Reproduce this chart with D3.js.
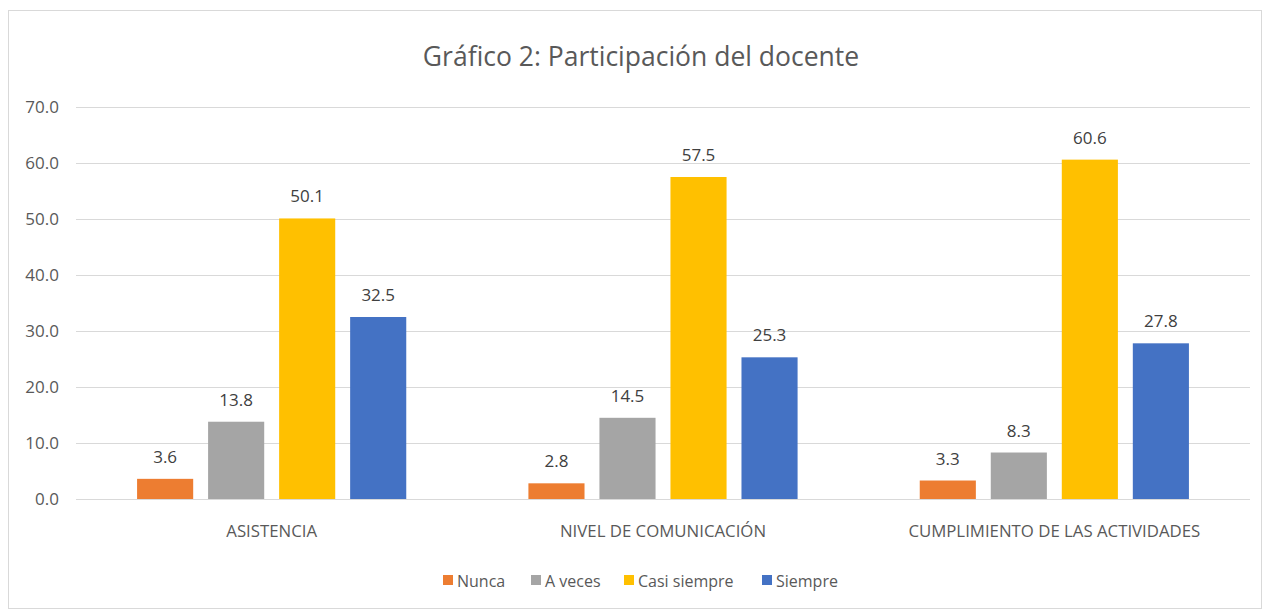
<!DOCTYPE html>
<html><head><meta charset="utf-8">
<script src="https://cdn.jsdelivr.net/npm/d3@7"></script>
<style>body{margin:0;background:#fff;}text{font-family:"Open Sans",sans-serif;}</style>
</head><body><svg id="c" width="1263" height="610"></svg>
<script>
const categories = ["ASISTENCIA", "NIVEL DE COMUNICACIÓN", "CUMPLIMIENTO DE LAS ACTIVIDADES"];
const seriesNames = ["Nunca", "A veces", "Casi siempre", "Siempre"];
const nunca = [3.6, 2.8, 3.3];
const aVeces = [13.8, 14.5, 8.3];
const casiSiempre = [50.1, 57.5, 60.6];
const siempre = [32.5, 25.3, 27.8];
const yTicks = [0, 10, 20, 30, 40, 50, 60, 70];
const colors = ["#ED7D31", "#A5A5A5", "#FFC000", "#4472C4"];
const seriesValues = [nunca, aVeces, casiSiempre, siempre];

const svg = d3.select("#c");
svg.append("rect").attr("x", 8.5).attr("y", 10.5).attr("width", 1253).attr("height", 598)
  .attr("fill", "#fff").attr("stroke", "#d9d9d9");

const x0 = d3.scaleBand().domain(categories).range([76, 1250]).padding(0);
const x1 = d3.scaleBand().domain(seriesNames).range([0, x0.bandwidth()]).paddingInner(0.21).paddingOuter(0.86);
const y = d3.scaleLinear().domain([0, 70]).range([499, 107]);

const grid = svg.append("g");
grid.selectAll("line").data(yTicks).join("line")
  .attr("x1", 76).attr("x2", 1250).attr("y1", d => y(d) + 0.5).attr("y2", d => y(d) + 0.5)
  .attr("stroke", "#d9d9d9").attr("stroke-width", 1);

const yAxis = svg.append("g").attr("transform", "translate(59,0)")
  .call(d3.axisLeft(y).tickValues(yTicks).tickFormat(d3.format(".1f")).tickSize(0).tickPadding(0));
yAxis.select(".domain").remove();
yAxis.selectAll("text").attr("fill", "#595959").style("font-size", "17px").style("font-family", '"Open Sans",sans-serif');

svg.append("text").attr("x", 641).attr("y", 66).attr("text-anchor", "middle")
  .attr("fill", "#595959").style("font-size", "26.5px")
  .text("Gráfico 2: Participación del docente");

const data = [];
categories.forEach((c, i) => seriesNames.forEach((s, j) => data.push({c, s, v: seriesValues[j][i], j})));

svg.append("g").selectAll("rect").data(data).join("rect")
  .attr("x", d => x0(d.c) + x1(d.s)).attr("width", x1.bandwidth())
  .attr("y", d => y(d.v)).attr("height", d => y(0) - y(d.v))
  .attr("fill", d => colors[d.j]);

svg.append("g").selectAll("text").data(data).join("text")
  .attr("x", d => x0(d.c) + x1(d.s) + x1.bandwidth() / 2).attr("y", d => y(d.v) - 16)
  .attr("text-anchor", "middle").attr("fill", "#404040").style("font-size", "17px")
  .text(d => d3.format(".1f")(d.v));

const xAxis = svg.append("g").attr("transform", "translate(0,499)")
  .call(d3.axisBottom(x0).tickSize(0).tickPadding(0));
xAxis.select(".domain").remove();
xAxis.selectAll("text").attr("dy", null).attr("y", 38).attr("fill", "#595959")
  .style("font-size", "16.8px").style("font-family", '"Open Sans",sans-serif');

const legX = [443, 531, 624, 762];
const leg = svg.append("g").selectAll("g").data(seriesNames).join("g")
  .attr("transform", (d, i) => `translate(${legX[i]},587)`);
leg.append("rect").attr("x", 0).attr("y", -12).attr("width", 10).attr("height", 10).attr("fill", (d, i) => colors[i]);
leg.append("text").attr("x", 14).attr("y", 0).attr("fill", "#595959").style("font-size", "16px").text(d => d);
</script></body></html>
